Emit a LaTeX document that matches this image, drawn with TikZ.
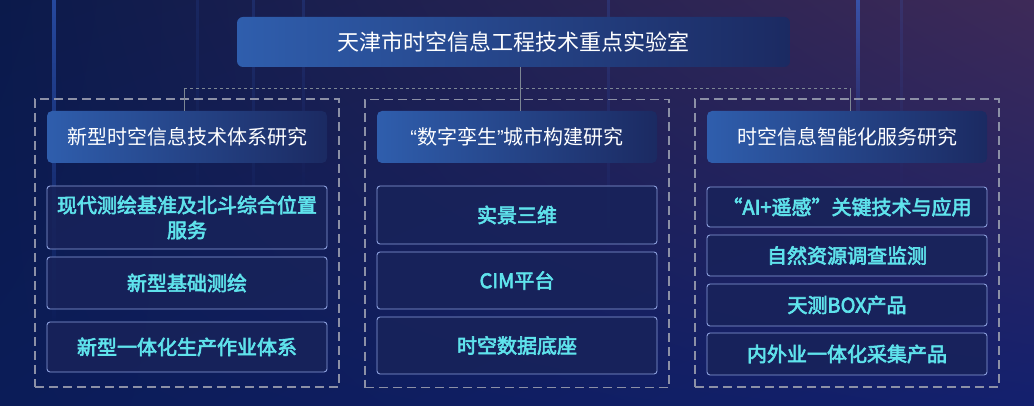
\documentclass[tikz,border=0pt]{standalone}
\usepackage{fontspec}
\newfontfamily\cjk{Noto Sans CJK SC}
\newfontfamily\cjkb[FakeBold=3]{Noto Sans CJK SC}
\newfontfamily\latq{Liberation Sans}
\usetikzlibrary{fadings,shadings}
\definecolor{bgUL}{HTML}{0B1A4B}
\definecolor{bgUR}{HTML}{3E2A58}
\definecolor{bgLL}{HTML}{0B1C58}
\definecolor{bgLR}{HTML}{13206E}
\definecolor{hdrL}{HTML}{2F5EAD}
\definecolor{hdrR}{HTML}{1B2A62}
\definecolor{itemfill}{HTML}{18235A}
\definecolor{itemline}{HTML}{8C9FDD}
\definecolor{itemtext}{HTML}{5FE3EC}
\definecolor{dashgray}{HTML}{8C90A6}
\definecolor{linkgray}{HTML}{7D8794}
\definecolor{streak}{HTML}{3A6EE0}
\tikzset{
  titlebox/.style={rounded corners=6pt, left color=hdrL, right color=hdrR,
    minimum width=553pt, minimum height=50pt, inner sep=0pt,
    font=\cjk\fontsize{22pt}{26pt}\selectfont, text=white},
  hdrbox/.style={rounded corners=5pt, left color=hdrL, right color=hdrR,
    minimum width=280pt, minimum height=52pt, inner sep=0pt,
    font=\cjk\fontsize{20pt}{24pt}\selectfont, text=white},
  itembox/.style={rounded corners=3pt, draw=itemline, line width=0.9pt,
    fill=itemfill, fill opacity=0.85, text opacity=1,
    minimum width=280pt, inner sep=0pt, align=center,
    font=\cjkb\fontsize{20pt}{25pt}\selectfont, text=itemtext},
  groupbox/.style={draw=dashgray, line width=1.8pt, dash pattern=on 9pt off 5pt,
    minimum width=304pt, minimum height=288pt, inner sep=0pt},
  link/.style={draw=linkgray, line width=0.9pt},
  linkdash/.style={draw=linkgray, line width=0.9pt, dash pattern=on 3pt off 3pt}
}
\begin{document}
\begin{tikzpicture}[x=1pt, y=-1pt]
\useasboundingbox (0,0) rectangle (1034,406);
% background
\shade[upper left=bgUL, upper right=bgUR, lower left=bgLL, lower right=bgLR] (0,0) rectangle (1034,406);
% light streaks
\fill[streak, opacity=0.55, path fading=south] (52,0) rectangle (56,330);
\fill[streak, opacity=0.6, path fading=south] (856,0) rectangle (860,150);
\fill[streak, opacity=0.18, path fading=south] (252,0) rectangle (255,250);
\fill[streak, opacity=0.18, path fading=south] (302,0) rectangle (305,200);
\fill[streak, opacity=0.2, path fading=south] (607,0) rectangle (610,260);
\fill[streak, opacity=0.15, path fading=south] (900,0) rectangle (903,200);
\fill[streak, opacity=0.12, path fading=south] (196,0) rectangle (199,220);

% group boxes
\node[groupbox] (gl) at (187,243) {};
\node[groupbox] (gm) at (517,243.5) {};
\node[groupbox] (gr) at (847,243) {};

% title
\node[titlebox] (title) at (513.5,42) {天津市时空信息工程技术重点实验室};

% headers
\node[hdrbox] (lh) at (187,137) {新型时空信息技术体系研究};
\node[hdrbox] (mh) at (517,137) {{\latq\char"201C}数字孪生{\latq\char"201D}城市构建研究};
\node[hdrbox] (rh) at (847,137) {时空信息智能化服务研究};

% connectors
\coordinate (j1) at (184,88);
\coordinate (j2) at (520,88);
\coordinate (j3) at (850,88);
\draw[linkdash] (j1) -- (j3);
\draw[link] (title.south -| j2) -- (j2 |- mh.north);
\draw[link] (j1) -- (j1 |- lh.north);
\draw[link] (j3) -- (j3 |- rh.north);

% left items
\node[itembox, minimum height=63pt] (l1) at (187,217.5) {现代测绘基准及北斗综合位置\\服务};
\node[itembox, minimum height=52pt] (l2) at (187,283) {新型基础测绘};
\node[itembox, minimum height=50pt] (l3) at (187,347) {新型一体化生产作业体系};

% middle items
\node[itembox, minimum height=58pt] (m1) at (517,215) {实景三维};
\node[itembox, minimum height=57pt] (m2) at (517,280.5) {CIM平台};
\node[itembox, minimum height=57pt] (m3) at (517,345.5) {时空数据底座};

% right items
\node[itembox, minimum height=40pt] (r1) at (847,207) {“AI+遥感”关键技术与应用};
\node[itembox, minimum height=41pt] (r2) at (847,255.5) {自然资源调查监测};
\node[itembox, minimum height=42pt] (r3) at (847,305) {天测BOX产品};
\node[itembox, minimum height=42pt] (r4) at (847,354) {内外业一体化采集产品};
\end{tikzpicture}
\end{document}
